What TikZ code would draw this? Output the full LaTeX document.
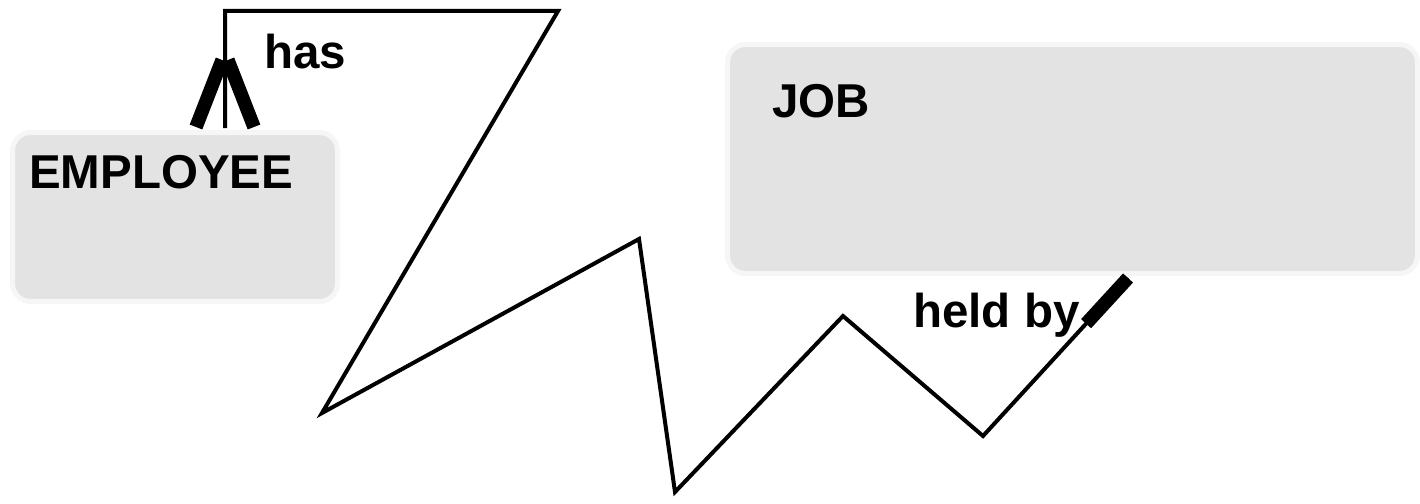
\documentclass[tikz,border=0pt]{standalone}
\usepackage{fontspec}
\setmainfont{Liberation Sans}
\usepackage{tikz}
\usetikzlibrary{calc,positioning}
\definecolor{entityFill}{RGB}{227,227,227}
\definecolor{entityRim}{RGB}{246,246,246}

\tikzset{
  entitybox/.style={draw=entityRim, fill=entityFill, line width=5pt, rounded corners=18pt, inner sep=0pt},
  entitytext/.style={font=\fontsize{47.5}{52}\selectfont\bfseries, inner sep=0pt, anchor=base west},
  relline/.style={line width=4pt, line join=miter},
  footleg/.style={line width=13.5pt, line cap=butt}
}

\begin{document}
\begin{tikzpicture}[x=1pt,y=-1pt]
\useasboundingbox (0,0) rectangle (1420,503);

% entities
\node[entitybox, minimum width=325, minimum height=169, anchor=north west] (emp) at (10,130) {};
\node[entitybox, minimum width=690, minimum height=229, anchor=north west] (job) at (725,42) {};
\node[entitytext] (emplabel) at ($(emp.north west)+(19,58)$) {EMPLOYEE};
\node[entitytext] (joblabel) at ($(job.north west)+(47,75)$) {JOB};

% relationship ends
\coordinate (empend) at ($(emp.north west)+(215,-2)$);
\coordinate (jobend) at ($(job.south west)+(403,2)$);

\draw[relline] (empend) |- (558,11) -- (322,413) -- (639,239) -- (675,492)
  -- (843,316) -- (983,436) -- (jobend);

% crow's foot at EMPLOYEE
\foreach \dx in {-29,29}{
  \draw[footleg] ($(empend)+(0.1*\dx,-68)$) -- ($(empend)+(\dx,-1)$);
}
% single bar at JOB
\draw[footleg] (jobend) -- ($(jobend)!62pt!(983,436)$);

\node[entitytext] (haslabel) at (264,68) {has};
\node[entitytext] (heldlabel) at (913,327) {held by};
\end{tikzpicture}
\end{document}
